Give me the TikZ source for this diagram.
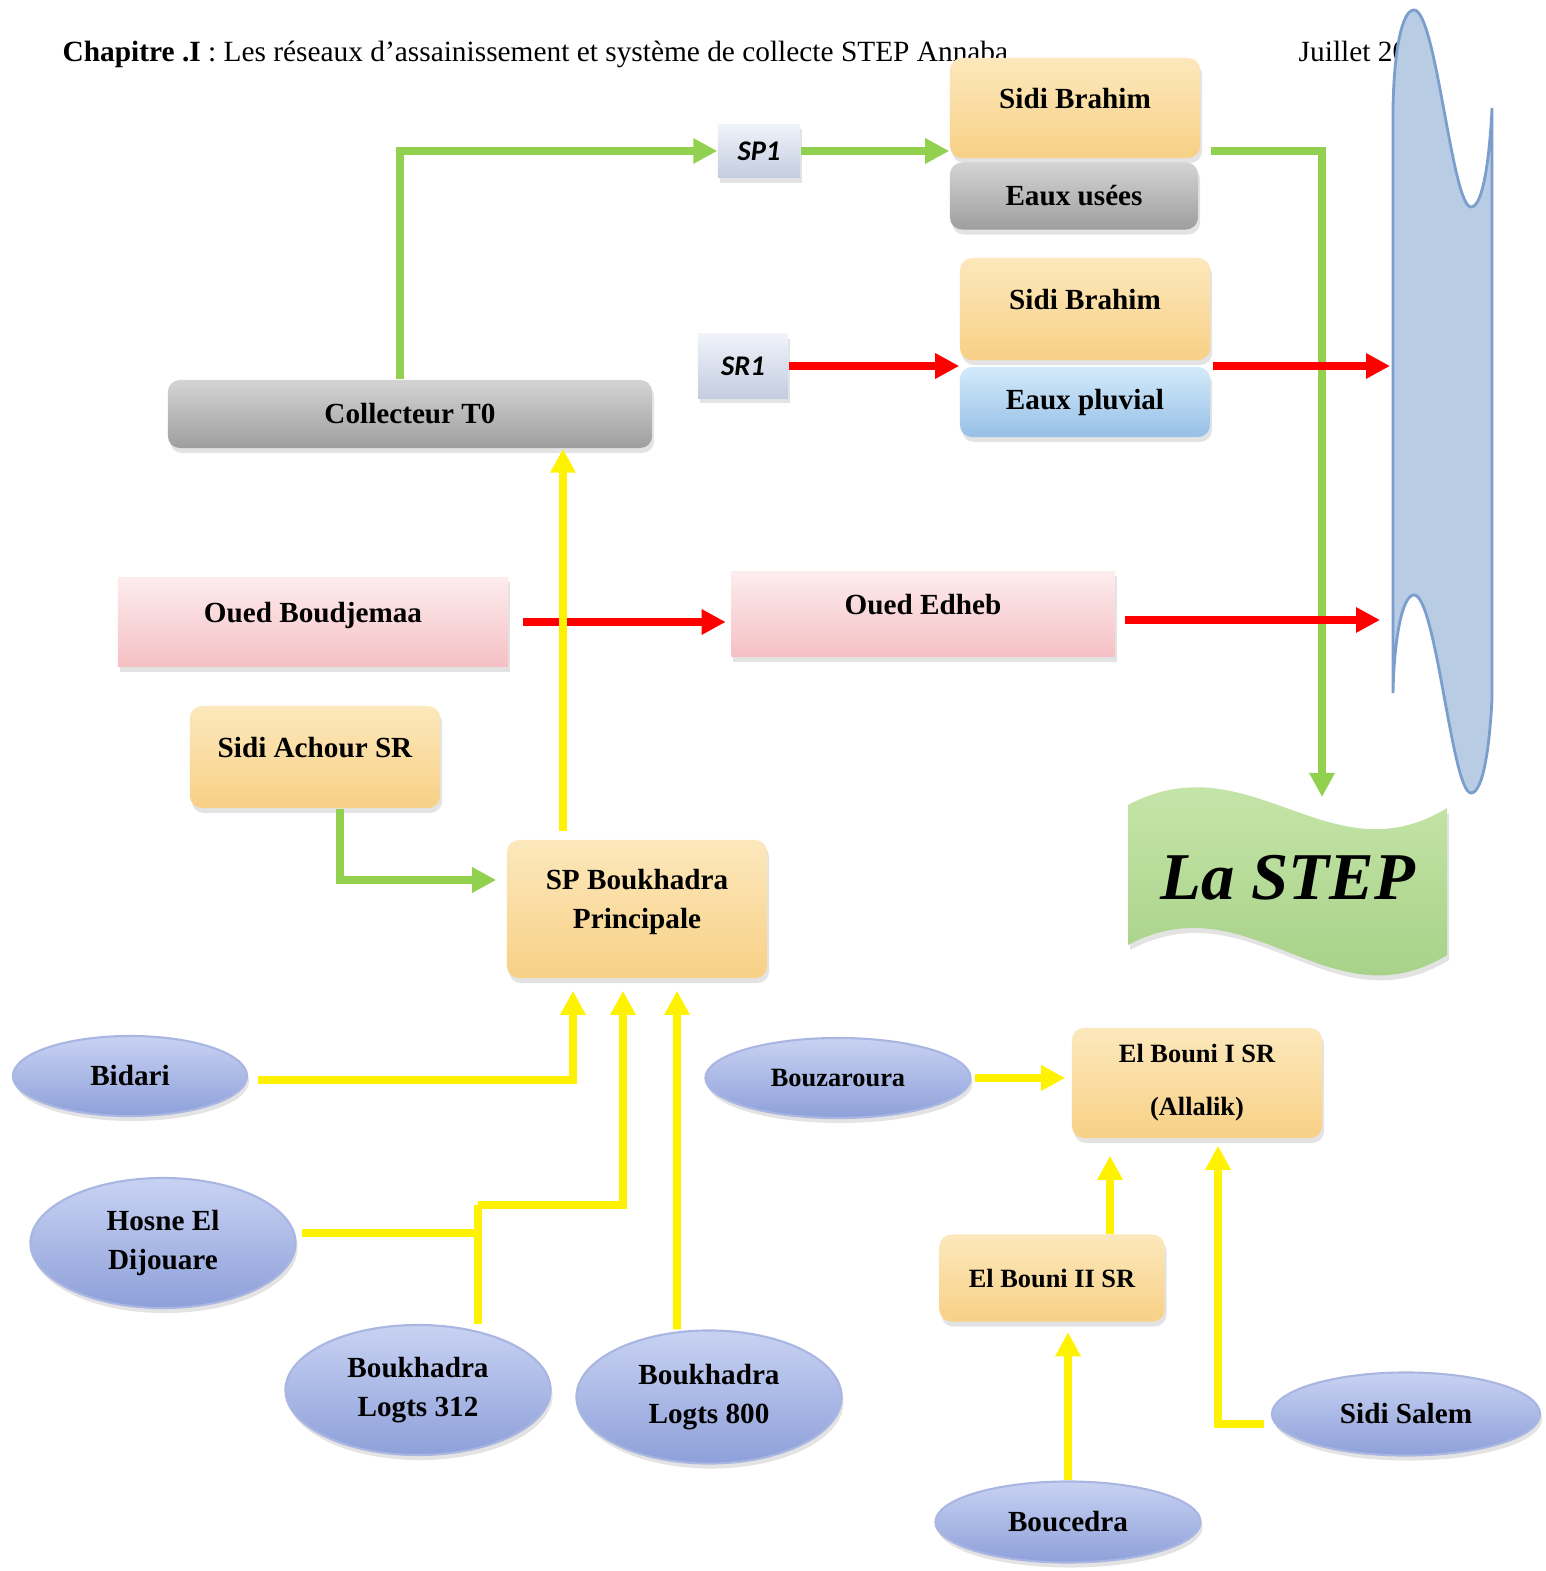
\documentclass[tikz,border=0pt]{standalone}
\usepackage{fontspec}
\setmainfont{Liberation Serif}
\newfontfamily\carlito{Carlito}
\usetikzlibrary{arrows.meta,shadows,shapes.geometric}
\definecolor{ytop}{RGB}{252,232,188}
\definecolor{ybot}{RGB}{248,208,134}
\definecolor{gtop}{RGB}{212,212,212}
\definecolor{gbot}{RGB}{158,158,158}
\definecolor{btop}{RGB}{212,234,250}
\definecolor{bbot}{RGB}{150,192,230}
\definecolor{ptop}{RGB}{253,236,238}
\definecolor{pbot}{RGB}{245,192,196}
\definecolor{stop}{RGB}{240,243,250}
\definecolor{sbot}{RGB}{196,204,224}
\definecolor{etop}{RGB}{200,210,242}
\definecolor{ebot}{RGB}{142,160,218}
\definecolor{eedge}{RGB}{170,182,226}
\definecolor{ltop}{RGB}{204,234,176}
\definecolor{lbot}{RGB}{160,204,128}
\definecolor{seafill}{RGB}{184,204,228}
\definecolor{seaedge}{RGB}{124,158,204}
\definecolor{lgreen}{RGB}{146,208,80}
\begin{document}
\begin{tikzpicture}[x=0.01cm, y=-0.01cm, font=\fontsize{8.3}{11.3}\selectfont\bfseries,
    box/.style={rectangle, rounded corners=0.12cm, align=center, inner sep=0pt,
      drop shadow={opacity=0.22, shadow xshift=0.02cm, shadow yshift=-0.05cm}},
    yb/.style={box, top color=ytop, bottom color=ybot},
    gb/.style={box, top color=gtop, bottom color=gbot},
    bb/.style={box, top color=btop, bottom color=bbot},
    pb/.style={box, rounded corners=0pt, top color=ptop, bottom color=pbot},
    sq/.style={box, rounded corners=0pt, top color=stop, bottom color=sbot, font=\fontsize{8.1}{10}\selectfont\carlito\bfseries\itshape},
    loc/.style={ellipse, inner sep=0pt, align=center, top color=etop, bottom color=ebot, draw=eedge, line width=0.6pt,
      drop shadow={opacity=0.22, shadow xshift=0.02cm, shadow yshift=-0.05cm}},
    sm/.style={font=\fontsize{7.5}{10}\selectfont\bfseries},
    up/.style={text depth=0.2cm},
    hd/.style={anchor=base west, inner sep=0pt, font=\fontsize{8.35}{10}\selectfont},
    tip/.style={-{Triangle[length=0.24cm,width=0.24cm]}},
    gline/.style={tip, draw=lgreen, line width=2.5pt},
    rline/.style={tip, draw=red, line width=2pt},
    yline/.style={tip, draw=yellow, line width=2.2pt},
    yseg/.style={draw=yellow, line width=2.2pt}]
  \useasboundingbox (0,0) rectangle (1545,1571);
  \node[hd] (hdr) at (62,62) {\textbf{Chapitre .I} : Les réseaux d’assainissement et système de collecte STEP Annaba};
  \node[hd] (jul) at (1298,62) {Juillet 20};
  % the sea
  \path[draw=seaedge, fill=seafill, line width=0.8pt] (1393,108) .. controls (1394,50) and (1402,10) .. (1414,10)
    .. controls (1436,10) and (1452,207) .. (1471,207) .. controls (1484,207) and (1490,150) .. (1492,108) -- (1492,698)
    .. controls (1490,740) and (1484,793) .. (1471,793) .. controls (1452,793) and (1436,595) .. (1414,595)
    .. controls (1402,595) and (1394,640) .. (1393,693) -- cycle;
  \coordinate (sea1) at (1390,366); \coordinate (sea2) at (1380,620);
  % la STEP
  \path[top color=ltop, bottom color=lbot, drop shadow={opacity=0.22, shadow xshift=0.02cm, shadow yshift=-0.05cm}]
    (1128,805) .. controls (1250,740) and (1330,880) .. (1447,808) -- (1447,955)
    .. controls (1330,1027) and (1250,880) .. (1128,945) -- cycle;
  \node[font=\fontsize{19}{24}\selectfont\bfseries\itshape] (stp) at (1288,878) {La STEP};
  \coordinate (stpin) at (1322,797);
  % boxes
  \node[yb, up, minimum width=2.5cm, minimum height=1cm] (sb1) at (1075,108) {Sidi Brahim};
  \node[gb, minimum width=2.48cm, minimum height=0.67cm] (eu) at (1074,196) {Eaux usées};
  \node[sq, minimum width=0.82cm, minimum height=0.53cm] (sp1) at (759,151) {SP1};
  \node[yb, up, minimum width=2.5cm, minimum height=1.02cm] (sb2) at (1085,309) {Sidi Brahim};
  \node[bb, minimum width=2.5cm, minimum height=0.7cm] (ep) at (1085,402) {Eaux pluvial};
  \node[sq, minimum width=0.9cm, minimum height=0.64cm] (sr1) at (743,366) {SR1};
  \node[gb, minimum width=4.84cm, minimum height=0.68cm] (col) at (410,414) {Collecteur T0};
  \node[pb, up, minimum width=3.9cm, minimum height=0.89cm] (oba) at (313,622) {Oued Boudjemaa};
  \node[pb, up, minimum width=3.83cm, minimum height=0.85cm] (oed) at (923,614) {Oued Edheb};
  \node[yb, up, minimum width=2.5cm, minimum height=1.02cm] (sas) at (315,757) {Sidi Achour SR};
  \node[yb, up, minimum width=2.6cm, minimum height=1.38cm] (spb) at (637,909) {SP Boukhadra\\Principale};
  \node[yb, sm, minimum width=2.5cm, minimum height=1.1cm] (eb1) at (1197,1083) {El Bouni I SR\\[5pt](Allalik)};
  \node[yb, sm, minimum width=2.25cm, minimum height=0.87cm] (eb2) at (1052,1278) {El Bouni II SR};
  % localities
  \node[loc, minimum width=2.34cm, minimum height=0.8cm] (bid) at (130,1076) {Bidari};
  \node[loc, minimum width=2.65cm, minimum height=1.3cm] (hos) at (163,1243) {Hosne El\\Dijouare};
  \node[loc, minimum width=2.65cm, minimum height=1.3cm] (b312) at (418,1390) {Boukhadra\\Logts 312};
  \node[loc, minimum width=2.65cm, minimum height=1.33cm] (b800) at (709,1397) {Boukhadra\\Logts 800};
  \node[loc, sm, minimum width=2.65cm, minimum height=0.8cm] (bzr) at (838,1078) {Bouzaroura};
  \node[loc, minimum width=2.65cm, minimum height=0.81cm] (bcd) at (1068,1522) {Boucedra};
  \node[loc, minimum width=2.68cm, minimum height=0.83cm] (ssl) at (1406,1414) {Sidi Salem};
  \coordinate (jn) at (478,1205);
  % green
  \draw[gline] ([xshift=-0.1cm]col.north) |- (sp1.west);
  \draw[gline] (sp1.east) -- (sp1.east -| sb1.west);
  \draw[gline, shorten <=0.1cm] (sb1.east |- sp1.east) -| (stpin);
  \draw[gline, shorten >=0.1cm] ([xshift=0.25cm]sas.south) |- ([yshift=0.29cm]spb.west);
  % red
  \draw[rline] (sr1.east) -- (sr1.east -| sb2.west);
  \draw[rline, shorten <=0.02cm] (sb2.east |- sr1.east) -- (sea1);
  \draw[rline, shorten <=0.14cm, shorten >=0.05cm] (oba.east) -- (oba.east -| oed.west);
  \draw[rline, shorten <=0.1cm] (oed.east |- sea2) -- (sea2);
  % yellow
  \draw[yline, shorten <=0.08cm] ([xshift=-0.74cm]spb.north) -- ([xshift=-0.74cm]spb.north |- col.south);
  \draw[yline, shorten <=0.1cm, shorten >=0.12cm] ([yshift=-0.04cm]bid.east) -| ([xshift=-0.64cm]spb.south);
  \draw[yline, shorten >=0.12cm] ([xshift=0.6cm]b312.north) |- (jn) -| ([xshift=-0.14cm]spb.south);
  \draw[yseg, shorten <=0.05cm] ([yshift=0.1cm]hos.east) -- ([yshift=0.1cm]hos.east -| jn);
  \draw[yline, shorten >=0.12cm] ([xshift=-0.32cm]b800.north) -- ([xshift=0.4cm]spb.south);
  \draw[yline, shorten <=0.03cm, shorten >=0.06cm] (bzr.east) -- (bzr.east -| eb1.west);
  \draw[yline, shorten >=0.17cm] ([xshift=0.58cm]eb2.north) -- ([xshift=0.58cm]eb2.north |- eb1.south);
  \draw[yline, shorten <=0.07cm, shorten >=0.07cm] ([yshift=-0.1cm]ssl.west) -| ([xshift=0.21cm]eb1.south);
  \draw[yline, shorten >=0.1cm] (bcd.north) -- (bcd.north |- eb2.south);
\end{tikzpicture}
\end{document}
